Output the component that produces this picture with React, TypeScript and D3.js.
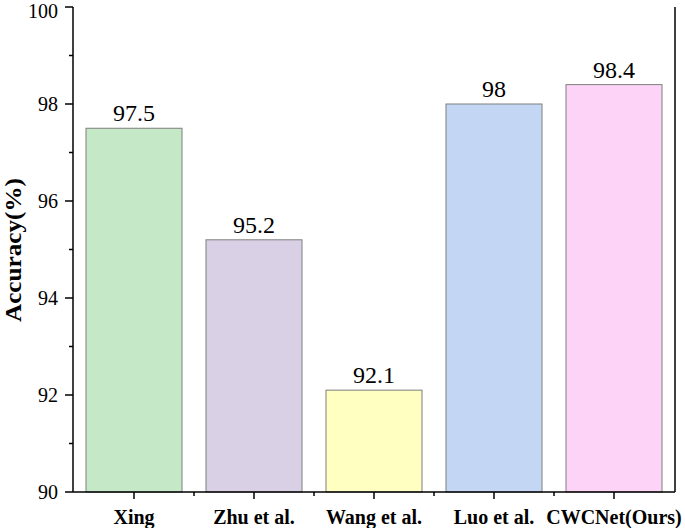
import React from "react";
import * as d3 from "d3";

const categories = ["Xing", "Zhu et al.", "Wang et al.", "Luo et al.", "CWCNet(Ours)"];
const accuracy = [97.5, 95.2, 92.1, 98.0, 98.4];
const valueLabels = ["97.5", "95.2", "92.1", "98", "98.4"];
const barColors = ["#C5E8C6", "#D9D0E6", "#FFFFC2", "#C3D7F5", "#FDD4F8"];
const yMajorTicks = [90, 92, 94, 96, 98, 100];
const yMinorTicks = [91, 93, 95, 97, 99];

const W = 685;
const H = 528;
const left = 73;
const right = 675;
const top = 7;
const bottom = 492;
const FONT = "'Liberation Serif', 'Times New Roman', Times, serif";

export default function App() {
  const x = d3
    .scaleBand<string>()
    .domain(categories)
    .range([left + 1, right - 1])
    .paddingInner(0.2)
    .paddingOuter(0.1);
  const y = d3.scaleLinear().domain([90, 100]).range([bottom, top]);
  const step = x.step();
  const minorX = categories
    .slice(0, -1)
    .map((c) => (x(c) as number) + x.bandwidth() + (step - x.bandwidth()) / 2);

  return (
    <svg
      width={W}
      height={H}
      style={{ position: "absolute", left: 0, top: 0, background: "#fff", fontFamily: FONT }}
    >
      {categories.map((c, i) => (
        <g key={c}>
          <rect
            x={x(c)}
            y={y(accuracy[i])}
            width={x.bandwidth()}
            height={bottom - y(accuracy[i])}
            fill={barColors[i]}
            stroke="#7f7f7f"
            strokeWidth={1}
          />
          <text
            x={(x(c) as number) + x.bandwidth() / 2}
            y={y(accuracy[i]) - 7}
            textAnchor="middle"
            fontSize={24}
            fill="#000"
            style={{ fontFamily: FONT }}
          >
            {valueLabels[i]}
          </text>
          <line
            x1={(x(c) as number) + x.bandwidth() / 2}
            x2={(x(c) as number) + x.bandwidth() / 2}
            y1={bottom}
            y2={bottom + 7}
            stroke="#000"
            strokeWidth={1.5}
          />
          <text
            x={(x(c) as number) + x.bandwidth() / 2}
            y={524}
            textAnchor="middle"
            fontSize={20}
            fontWeight="bold"
            fill="#000"
            style={{ fontFamily: FONT }}
          >
            {c}
          </text>
        </g>
      ))}
      {minorX.map((mx, i) => (
        <line key={"mx" + i} x1={mx} x2={mx} y1={bottom} y2={bottom + 4} stroke="#000" strokeWidth={1.5} />
      ))}
      {yMajorTicks.map((t) => (
        <g key={"y" + t}>
          <line x1={left - 8} x2={left} y1={y(t)} y2={y(t)} stroke="#000" strokeWidth={1.5} />
          <text
            x={left - 15}
            y={Math.max(y(t) + 7, 18)}
            textAnchor="end"
            fontSize={20}
            fill="#000"
            style={{ fontFamily: FONT }}
          >
            {t}
          </text>
        </g>
      ))}
      {yMinorTicks.map((t) => (
        <line key={"ym" + t} x1={left - 4} x2={left} y1={y(t)} y2={y(t)} stroke="#000" strokeWidth={1.5} />
      ))}
      <line x1={left} x2={left} y1={top} y2={bottom} stroke="#000" strokeWidth={1.5} />
      <line x1={left} x2={right} y1={bottom} y2={bottom} stroke="#000" strokeWidth={1.5} />
      <line x1={right} x2={right} y1={top} y2={bottom} stroke="#000" strokeWidth={1.5} />
      <text
        transform={`translate(21, 250) rotate(-90)`}
        textAnchor="middle"
        fontSize={24}
        fontWeight="bold"
        fill="#000"
        textLength={144}
        lengthAdjust="spacingAndGlyphs"
        style={{ fontFamily: FONT }}
      >
        Accuracy(%)
      </text>
    </svg>
  );
}
